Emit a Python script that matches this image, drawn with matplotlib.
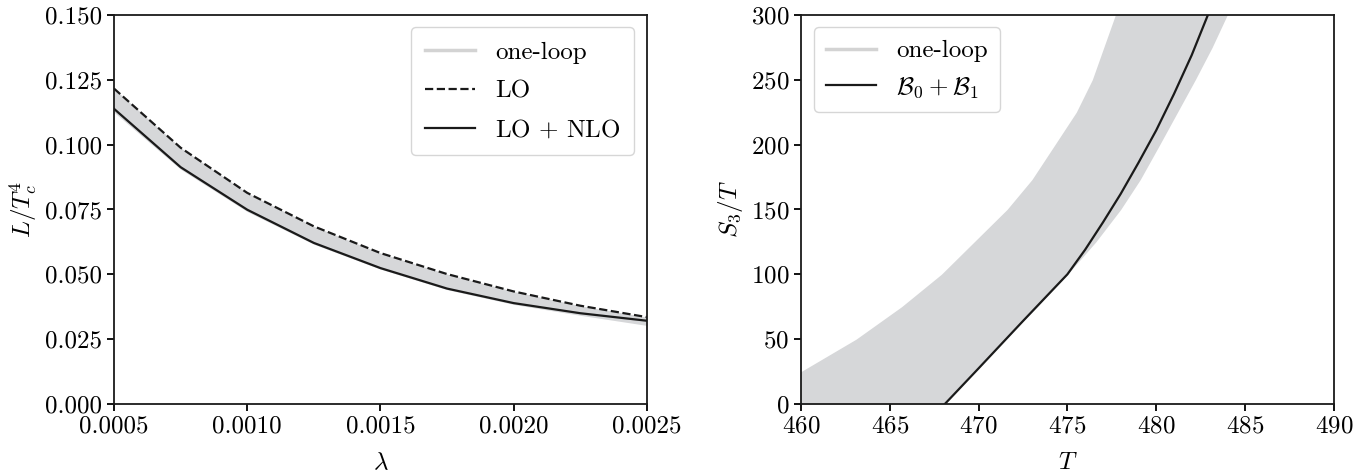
import numpy as np
import matplotlib
matplotlib.use("Agg")
import matplotlib.pyplot as plt
from matplotlib.ticker import FormatStrFormatter, MultipleLocator

plt.rcParams['font.family'] = 'serif'
plt.rcParams['font.serif'] = ['cmr10', 'DejaVu Serif']
plt.rcParams['mathtext.fontset'] = 'cm'
plt.rcParams['axes.formatter.use_mathtext'] = True
plt.rcParams['axes.unicode_minus'] = False

# left panel: latent heat vs lambda
lam = [0.0005, 0.00075, 0.0010, 0.00125, 0.0015, 0.00175, 0.0020, 0.00225, 0.0025]
L_lo = [0.1216, 0.0988, 0.0814, 0.0685, 0.0582, 0.0501, 0.0434, 0.0379, 0.0335]
L_nlo = [0.1138, 0.0913, 0.0749, 0.0621, 0.0524, 0.0445, 0.0389, 0.0350, 0.0321]
L_band_lo = [0.1125, 0.0905, 0.0742, 0.0616, 0.0520, 0.0441, 0.0384, 0.0342, 0.0303]
L_band_hi = L_lo

# right panel: S3/T vs T
S_band = [0, 25, 50, 75, 100, 125, 150, 173, 200, 225, 250, 275, 300]
T_band_left = [457.0, 460.0, 463.1, 465.66, 467.9, 469.75, 471.6, 473.0, 474.3, 475.5, 476.4, 477.05, 477.7]
T_band_right = [468.0, 469.7, 471.5, 473.3, 475.0, 476.6, 478.0, 479.1, 480.2, 481.2, 482.2, 483.15, 484.0]
T_line = [468.1, 470, 472.5, 475, 476, 477, 478, 479, 480, 481, 482, 483]
S_line = [0, 27.5, 64, 100, 119, 140, 162, 186, 211, 239, 269, 303]

band_col = '#d6d7d9'
leg_col = '#d3d3d3'
line_col = '#1a1a1a'
fs = 18

fig = plt.figure(figsize=(13.66, 4.75), dpi=100)
ax1 = fig.add_axes([0.0835, 0.1495, 0.390, 0.819])
ax2 = fig.add_axes([0.5864, 0.1495, 0.390, 0.819])

ax1.fill_between(lam, L_band_lo, L_band_hi, color=band_col, lw=0)
ax1.plot([], [], color=leg_col, lw=2.5, label='one-loop')
ax1.plot(lam, L_lo, color=line_col, lw=1.6, ls='--', label='LO')
ax1.plot(lam, L_nlo, color=line_col, lw=1.6, label=r'LO $+$ NLO')
ax1.set_xlim(0.0005, 0.0025)
ax1.set_ylim(0, 0.15)
ax1.xaxis.set_major_locator(MultipleLocator(0.0005))
ax1.yaxis.set_major_locator(MultipleLocator(0.025))
ax1.xaxis.set_major_formatter(FormatStrFormatter('%.4f'))
ax1.yaxis.set_major_formatter(FormatStrFormatter('%.3f'))
ax1.set_xlabel(r'$\lambda$', fontsize=fs, labelpad=10)
ax1.set_ylabel(r'$L/T_c^4$', fontsize=fs)
ax1.legend(loc='upper right', fontsize=fs, handlelength=2.0, borderpad=0.55,
           labelspacing=0.65, edgecolor='#cccccc')

ax2.fill_betweenx(S_band, T_band_left, T_band_right, color=band_col, lw=0)
ax2.plot([], [], color=leg_col, lw=2.5, label='one-loop')
ax2.plot(T_line, S_line, color=line_col, lw=1.6, label=r'$\mathcal{B}_0+\mathcal{B}_1$')
ax2.set_xlim(460, 490)
ax2.set_ylim(0, 300)
ax2.xaxis.set_major_locator(MultipleLocator(5))
ax2.yaxis.set_major_locator(MultipleLocator(50))
ax2.set_xlabel(r'$T$', fontsize=fs, labelpad=10)
ax2.set_ylabel(r'$S_3/T$', fontsize=fs)
ax2.legend(loc='upper left', fontsize=fs, handlelength=2.0, borderpad=0.5,
           labelspacing=0.5, edgecolor='#cccccc')

for ax in (ax1, ax2):
    ax.tick_params(labelsize=fs, width=1.3, length=5, direction='out')
    for sp in ax.spines.values():
        sp.set_linewidth(1.3)
        sp.set_color(line_col)

fig.savefig('out.png', dpi=100)
